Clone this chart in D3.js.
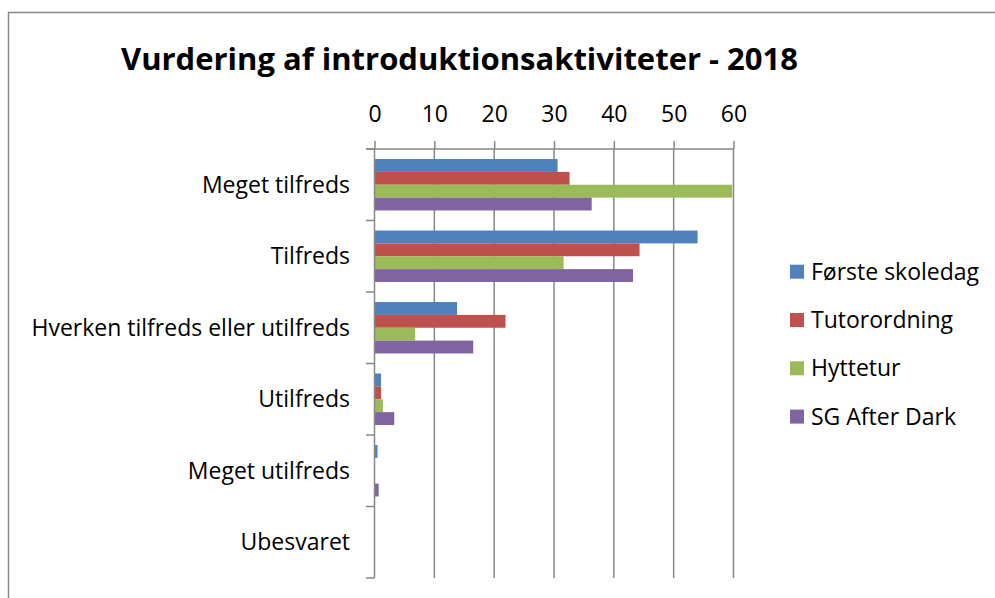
<!DOCTYPE html>
<html><head><meta charset="utf-8">
<script src="https://cdn.jsdelivr.net/npm/d3@7"></script>
<style>
html,body{margin:0;padding:0;background:#fff;}
svg{display:block;}
text{font-family:"Open Sans",sans-serif;fill:#000;font-variant-ligatures:none;}
</style></head>
<body>
<svg id="c" width="995" height="598"></svg>
<script>
const title = "Vurdering af introduktionsaktiviteter - 2018";
const categories = ["Meget tilfreds","Tilfreds","Hverken tilfreds eller utilfreds","Utilfreds","Meget utilfreds","Ubesvaret"];
const seriesNames = ["Første skoledag","Tutorordning","Hyttetur","SG After Dark"];
const forsteSkoledag = [30.6, 54.0, 13.8, 1.1, 0.5, 0];
const tutorordning   = [32.6, 44.3, 21.9, 1.1, 0, 0];
const hyttetur       = [59.8, 31.6, 6.8, 1.4, 0, 0];
const sgAfterDark    = [36.3, 43.2, 16.5, 3.3, 0.7, 0];
const xTicks = [0,10,20,30,40,50,60];
const colors = ["#4F81BD","#C0504D","#9BBB59","#8064A2"];

const seriesValues = [forsteSkoledag, tutorordning, hyttetur, sgAfterDark];
const svg = d3.select("#c");
const grid = "#878787";
const fs = "23px";

svg.append("path").attr("d","M8.5,610 V12.5 H1000").attr("fill","none").attr("stroke",grid).attr("stroke-width",1.5);

svg.append("text").attr("x",459.5).attr("y",70).attr("text-anchor","middle")
  .style("font-weight","bold").style("font-size","31px").text(title);

const x = d3.scaleLinear().domain([0,60]).range([374.5,733.5]);
const y0 = d3.scaleBand().domain(categories).range([149,578]).paddingInner(0).paddingOuter(0);
const y1 = d3.scaleBand().domain(seriesNames).range([0,y0.bandwidth()]).paddingInner(0).paddingOuter(0.78);

svg.append("g").selectAll("line").data(xTicks.slice(1)).join("line")
  .attr("x1",d=>x(d)).attr("x2",d=>x(d)).attr("y1",149).attr("y2",578)
  .attr("stroke",grid).attr("stroke-width",1.5);

const g = svg.append("g");
seriesNames.forEach((s,si)=>{
  g.append("g").selectAll("rect").data(seriesValues[si]).join("rect")
    .attr("x",x(0))
    .attr("y",(d,i)=>y0(categories[i])+y1(s))
    .attr("width",d=>Math.max(0,x(d)-x(0)))
    .attr("height",y1.bandwidth())
    .attr("fill",colors[si]);
});

const xAxis = d3.axisTop(x).tickValues(xTicks).tickSize(8).tickPadding(19).tickSizeOuter(0);
const ax = svg.append("g").attr("transform","translate(0,149)").call(xAxis);
ax.select(".domain").remove();
ax.selectAll(".tick line").attr("stroke",grid).attr("stroke-width",1.5);
ax.selectAll(".tick text").style("font-size",fs).style("font-family","'Open Sans',sans-serif").attr("fill","#000");
svg.append("line").attr("x1",366).attr("x2",x(60)).attr("y1",149).attr("y2",149).attr("stroke",grid).attr("stroke-width",1.5);

const yEdges = categories.map(c=>y0(c)).concat([y0.range()[1]]);
svg.append("line").attr("x1",x(0)).attr("x2",x(0)).attr("y1",149).attr("y2",578).attr("stroke",grid).attr("stroke-width",1.5);
svg.append("g").selectAll("line").data(yEdges).join("line")
  .attr("x1",366).attr("x2",x(0)).attr("y1",d=>d).attr("y2",d=>d)
  .attr("stroke",grid).attr("stroke-width",1.5);
svg.append("g").selectAll("text").data(categories).join("text")
  .attr("x",350).attr("y",d=>y0(d)+y0.bandwidth()/2).attr("dy","0.35em")
  .attr("text-anchor","end").style("font-size",fs).text(d=>d);

const lg = svg.append("g");
seriesNames.forEach((s,i)=>{
  const cy = 271.7 + i*48.3;
  lg.append("rect").attr("x",790).attr("y",cy-7).attr("width",14).attr("height",14).attr("fill",colors[i]);
  lg.append("text").attr("x",811).attr("y",cy).attr("dy","0.35em").style("font-size",fs).text(s);
});
</script>
</body></html>
